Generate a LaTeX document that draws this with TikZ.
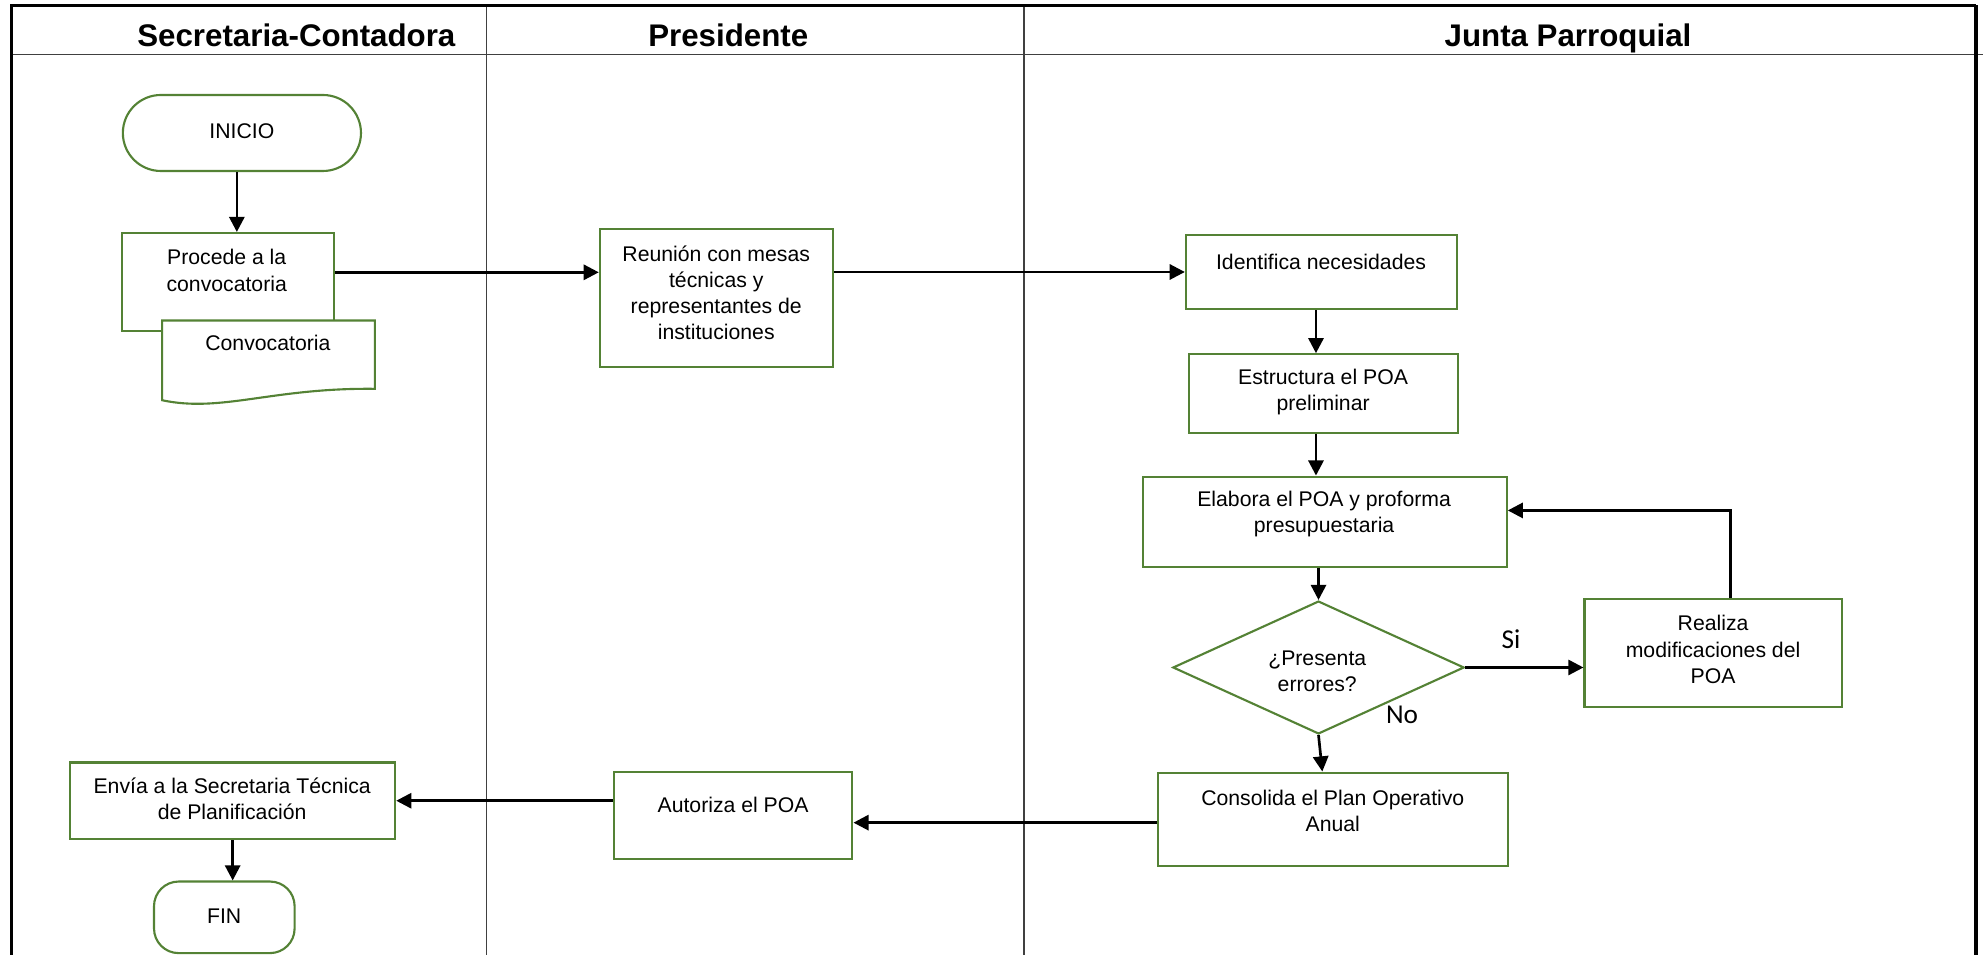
\documentclass[tikz,border=0pt]{standalone}
\usepackage{fontspec}
\setmainfont{Liberation Sans}
\newfontfamily\calib{Carlito}
\usetikzlibrary{shapes.geometric,arrows.meta,fit}
\definecolor{boxgreen}{RGB}{84,130,53}
\definecolor{lanegray}{RGB}{64,64,64}
\begin{document}
\begin{tikzpicture}[x=0.567pt,y=-0.567pt,
  box/.style={draw=boxgreen,line width=0.95pt,fill=white,inner sep=0pt},
  txt/.style={font=\fontsize{9.5}{11.7}\selectfont,align=center,inner sep=0pt},
  hdr/.style={font=\fontsize{14}{16}\selectfont\bfseries,inner sep=0pt,anchor=base},
  lbl/.style={font=\calib\fontsize{12.2}{14}\selectfont,inner sep=0pt},
  arr/.style={line width=1.2pt,-{Triangle[length=6.8pt,width=6.8pt]}},
  lane/.style={draw=lanegray,line width=0.75pt},
  frame/.style={draw=black,line width=1.3pt},
]
\useasboundingbox (0,0) rectangle (1568,754);

% swimlanes
\draw[lane] (8.8,43) -- (1566,43);
\draw[lane] (384,4) -- (384,754);
\draw[lane] (808.6,4) -- (808.6,754);
\draw[frame] (8.8,754) -- (8.8,4) -- (1560,4);
\draw[frame,line width=1.9pt] (1560,4) -- (1560,754);

\node[hdr] (h1) at (234,37) {Secretaria-Contadora};
\node[hdr] (h2) at (575,37) {Presidente};
\node[hdr] (h3) at (1238,37) {Junta Parroquial};

% nodes
\node[box,rounded corners=17pt,fit={(97,75) (285,135)}] (inicio) {};
\node[txt] (inicio-t) at (191,103.5) {INICIO};

\node[box,fit={(96,184) (264,261)}] (pro) {};
\node[txt] (pro-t) at (179,213.5) {Procede a la\\convocatoria};

\path[box] (128,253) -- (296,253) -- (296,307)
  .. controls (215,306) and (175,326) .. (128,316) -- cycle;
\node[txt] (conv) at (211.5,271) {Convocatoria};

\node[box,fit={(473.6,181) (657.5,289.5)}] (reu) {};
\node[txt] (reu-t) at (565.5,231) {Reunión con mesas\\técnicas y\\representantes de\\instituciones};

\node[box,fit={(936.3,185.5) (1150,244)}] (ide) {};
\node[txt] (ide-t) at (1043,207) {Identifica necesidades};

\node[box,fit={(938.5,279.7) (1151.3,341.6)}] (est) {};
\node[txt] (est-t) at (1044.6,309.5) {Estructura el POA\\preliminar};

\node[box,fit={(902.4,376.3) (1189.6,447.4)}] (ela) {};
\node[txt] (ela-t) at (1045.4,406) {Elabora el POA y proforma\\presupuestaria};

\node[draw=boxgreen,line width=0.95pt,fill=white,diamond,inner sep=0pt,
  minimum width=130.4pt,minimum height=59.5pt] (dia) at (1041,527) {};
\node[txt] (dia-t) at (1040,530.3) {¿Presenta\\errores?};

\node[box,fit={(1251,473) (1454,558)}] (rea) {};
\node[txt] (rea-t) at (1352.5,512.8) {Realiza\\modificaciones del\\POA};

\node[box,fit={(914,610) (1190.6,683.5)}] (con) {};
\node[txt] (con-t) at (1052.3,640) {Consolida el Plan Operativo\\Anual};

\node[box,fit={(484.5,609.8) (673,678.2)}] (aut) {};
\node[txt] (aut-t) at (578.8,635.6) {Autoriza el POA};

\node[box,fit={(55.4,602) (312,662.4)}] (env) {};
\node[txt] (env-t) at (183.3,631) {Envía a la Secretaria Técnica\\de Planificación};

\node[box,rounded corners=11pt,fit={(121.6,696) (232.6,752.5)}] (fin) {};
\node[txt] (fin-t) at (177,723.5) {FIN};

% connectors
\coordinate (c1) at (187,0);
\draw[arr] (inicio.south -| c1) -- (pro.north -| c1);
\coordinate (r1) at (0,215);
\draw[arr] (pro.east |- r1) -- (reu.west |- r1);
\draw[arr] (reu.east |- ide.west) -- (ide.west);
\coordinate (cJ) at (1039,0);
\draw[arr] (ide.south -| cJ) -- (est.north -| cJ);
\draw[arr] (est.south -| cJ) -- (ela.north -| cJ);
\draw[arr] (ela.south -| dia.north) -- (dia.north);
\draw[arr] (dia.east) -- (dia.east -| rea.west);
\coordinate (lx) at (1366,0);
\coordinate (ly) at (0,403);
\draw[arr] (rea.north -| lx) |- (ela.east |- ly);
\coordinate (cK) at (1044,0);
\draw[arr] (dia.south) -- (con.north -| cK);
\coordinate (r2) at (0,649.5);
\draw[arr] (con.west |- r2) -- (aut.east |- r2);
\draw[arr] (aut.west |- env.east) -- (env.east);
\draw[arr] (env.south) -- (env.south |- fin.north);

\node[lbl] (si) at (1193,505) {Si};
\node[lbl] (no) at (1107,564) {No};
\end{tikzpicture}
\end{document}
